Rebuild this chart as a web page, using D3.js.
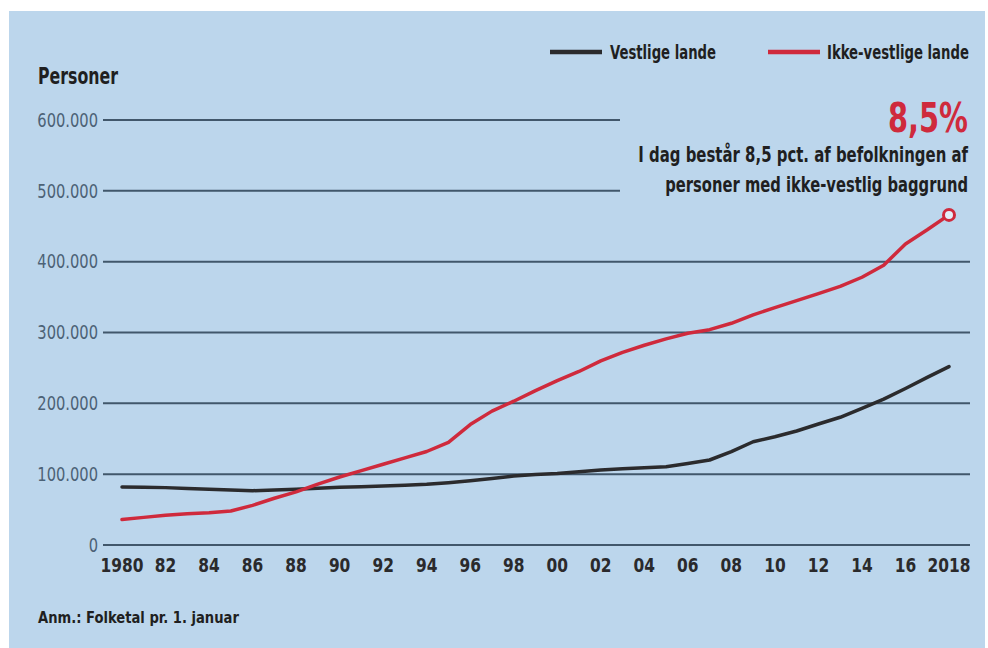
<!DOCTYPE html>
<html>
<head>
<meta charset="utf-8">
<script src="https://cdn.jsdelivr.net/npm/d3@7"></script>
<style>
  html, body { margin: 0; padding: 0; background: #ffffff; }
  svg { display: block; }
  text { font-family: "DejaVu Sans Condensed", "Liberation Sans Narrow", "Roboto Condensed", sans-serif; }
</style>
</head>
<body>
<svg id="chart" width="988" height="648"></svg>
<script>
// ---- data ----
const years = d3.range(1980, 2019);
const vestlige = [82000, 81500, 81000, 79800, 78600, 77500, 76700, 77500, 78600, 80000,
                  81400, 82300, 83300, 84400, 85600, 88000, 90800, 94000, 97400, 99500,
                  101000, 103500, 105900, 107500, 109000, 110600, 115000, 120000, 131800, 145800,
                  152900, 161000, 170800, 180300, 193000, 206000, 221000, 236700, 251800];
const ikkeVestlige = [36000, 39000, 42000, 44000, 45500, 48000, 56000, 66000, 75000, 86000,
                      96000, 105000, 114000, 123000, 132000, 145000, 170000, 189000, 203000, 218000,
                      232000, 245000, 260000, 272000, 282000, 291000, 299000, 304000, 313000, 325000,
                      335000, 345000, 355000, 365000, 378000, 395000, 425000, 445000, 466000];
const seriesNames = ["Vestlige lande", "Ikke-vestlige lande"];
const xTickValues = d3.range(1980, 2019, 2);
const xTickLabels = ["1980", "82", "84", "86", "88", "90", "92", "94", "96", "98",
                     "00", "02", "04", "06", "08", "10", "12", "14", "16", "2018"];
const yTickValues = [0, 100000, 200000, 300000, 400000, 500000, 600000];
const yTickLabels = ["0", "100.000", "200.000", "300.000", "400.000", "500.000", "600.000"];
const yTitle = "Personer";
const highlight = "8,5%";
const noteLines = ["I dag består 8,5 pct. af befolkningen af", "personer med ikke-vestlig baggrund"];
const footnote = "Anm.: Folketal pr. 1. januar";

// ---- drawing ----
const svg = d3.select("#chart");
const W = 988, H = 648;
const colBlack = "#2b2b2d", colRed = "#cf2a3c", colGrid = "#41576b", colAxisText = "#4c6276", colText = "#1f1f21";

// place a horizontally condensed text: anchor point (ax, ay), target width (or factor)
function condensed(parent, str, ax, ay, anchor, opts) {
  const g = parent.append("g");
  const t = g.append("text").attr("x", 0).attr("y", 0).attr("text-anchor", anchor).text(str)
    .attr("fill", opts.fill).style("font-size", opts.size + "px")
    .style("font-weight", opts.bold ? "bold" : "normal");
  const w = t.node().getComputedTextLength();
  const f = opts.width ? opts.width / w : opts.factor;
  g.attr("transform", `translate(${ax},${ay}) scale(${f},1)`);
  return t;
}

// background panel
svg.append("rect").attr("x", 9).attr("y", 11).attr("width", W - 12).attr("height", H - 11)
  .attr("fill", "#bcd6ec");

const x = d3.scaleLinear().domain([1980, 2018]).range([122, 949]);
const y = d3.scaleLinear().domain([0, 600000]).range([545, 120]);

// gridlines
svg.append("g").selectAll("line").data(yTickValues).join("line")
  .attr("x1", 103)
  .attr("x2", d => d > 450000 ? 620 : 970)
  .attr("y1", d => y(d)).attr("y2", d => y(d))
  .attr("stroke", colGrid).attr("stroke-width", 2);

// y axis labels (drawn with the scale, condensed)
const gy = svg.append("g");
yTickValues.forEach((v, i) => {
  condensed(gy, yTickLabels[i], 98, y(v) + 6.8, "end", { fill: colAxisText, size: 19, factor: 0.86 });
});

// x axis labels
const gx = svg.append("g");
xTickValues.forEach((v, i) => {
  condensed(gx, xTickLabels[i], x(v), 572, "middle", { fill: "#2a2a2c", size: 19.5, bold: true, factor: 0.88 });
});

// lines
const line = d3.line().x((d, i) => x(years[i])).y(d => y(d)).curve(d3.curveLinear);
svg.append("path").datum(vestlige).attr("d", line)
  .attr("fill", "none").attr("stroke", colBlack).attr("stroke-width", 3.5)
  .attr("stroke-linejoin", "round").attr("stroke-linecap", "round");
svg.append("path").datum(ikkeVestlige).attr("d", line)
  .attr("fill", "none").attr("stroke", colRed).attr("stroke-width", 3.5)
  .attr("stroke-linejoin", "round").attr("stroke-linecap", "round");

// end marker
svg.append("circle").attr("cx", x(2018)).attr("cy", y(ikkeVestlige[ikkeVestlige.length - 1]))
  .attr("r", 5.5).attr("fill", "#e3eef8").attr("stroke", colRed).attr("stroke-width", 3);

// y title
condensed(svg, yTitle, 38, 84, "start", { fill: colText, size: 23, bold: true, width: 80 });

// legend
const legend = [
  { name: seriesNames[0], color: colBlack, x1: 550, x2: 602, tx: 610, w: 106 },
  { name: seriesNames[1], color: colRed, x1: 768, x2: 820, tx: 827, w: 142 }
];
legend.forEach(l => {
  svg.append("line").attr("x1", l.x1).attr("x2", l.x2).attr("y1", 52).attr("y2", 52)
    .attr("stroke", l.color).attr("stroke-width", 4.5);
  condensed(svg, l.name, l.tx, 59, "start", { fill: colText, size: 20, bold: true, width: l.w });
});

// annotation
condensed(svg, highlight, 968, 132, "end", { fill: colRed, size: 40, bold: true, width: 80 });
const noteW = [330, 303];
noteLines.forEach((t, i) => {
  condensed(svg, t, 968, 162 + i * 30, "end", { fill: colText, size: 21, bold: true, width: noteW[i] });
});

// footnote
condensed(svg, footnote, 38, 623, "start", { fill: colText, size: 16, bold: true, width: 201 });
</script>
</body>
</html>
